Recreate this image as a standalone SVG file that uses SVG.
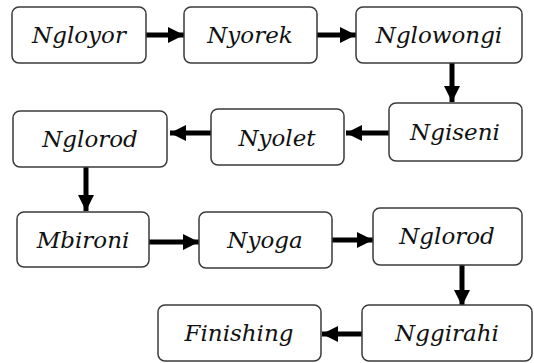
<svg xmlns="http://www.w3.org/2000/svg" width="534" height="363" viewBox="0 0 534 363">
<style>
.box{fill:#fff;stroke:#3a3a3a;stroke-width:1.5}
.t{font-family:"DejaVu Serif","Liberation Serif",serif;font-style:italic;font-size:23px;fill:#111;text-anchor:middle}
.c{stroke:#000;stroke-width:5;fill:none}
</style>
<defs>
<marker id="ah" markerUnits="userSpaceOnUse" markerWidth="16" markerHeight="16" refX="16" refY="8" orient="auto">
<path d="M0,0 L16,8 L0,16 Z" fill="#000"/>
</marker>
</defs>
<rect width="534" height="363" fill="#fff"/>
<g id="connectors">
<line class="c" x1="146" y1="35" x2="184" y2="35" marker-end="url(#ah)"/>
<line class="c" x1="317" y1="35" x2="356" y2="35" marker-end="url(#ah)"/>
<line class="c" x1="452" y1="63" x2="452" y2="102" marker-end="url(#ah)"/>
<line class="c" x1="389" y1="133" x2="346" y2="133" marker-end="url(#ah)"/>
<line class="c" x1="211" y1="133" x2="170" y2="133" marker-end="url(#ah)"/>
<line class="c" x1="86" y1="167" x2="86" y2="211" marker-end="url(#ah)"/>
<line class="c" x1="149" y1="242" x2="199" y2="242" marker-end="url(#ah)"/>
<line class="c" x1="332" y1="240" x2="373" y2="240" marker-end="url(#ah)"/>
<line class="c" x1="462" y1="265" x2="462" y2="306" marker-end="url(#ah)"/>
<line class="c" x1="362" y1="334" x2="322" y2="334" marker-end="url(#ah)"/>
</g>
<g id="n1"><rect class="box" x="12" y="7" width="134" height="56" rx="7"/><text class="t" x="79" y="43">Ngloyor</text></g>
<g id="n2"><rect class="box" x="184" y="7" width="133" height="56" rx="7"/><text class="t" x="250" y="43">Nyorek</text></g>
<g id="n3"><rect class="box" x="356" y="7" width="166" height="56" rx="7"/><text class="t" x="439" y="43">Nglowongi</text></g>
<g id="n4"><rect class="box" x="389" y="103" width="133" height="58" rx="7"/><text class="t" x="455" y="140">Ngiseni</text></g>
<g id="n5"><rect class="box" x="211" y="109" width="133" height="56" rx="7"/><text class="t" x="277" y="146">Nyolet</text></g>
<g id="n6"><rect class="box" x="13" y="111" width="154" height="56" rx="7"/><text class="t" x="90" y="147">Nglorod</text></g>
<g id="n7"><rect class="box" x="17" y="212" width="132" height="55" rx="7"/><text class="t" x="83" y="248">Mbironi</text></g>
<g id="n8"><rect class="box" x="199" y="212" width="133" height="56" rx="7"/><text class="t" x="265" y="248">Nyoga</text></g>
<g id="n9"><rect class="box" x="373" y="208" width="149" height="57" rx="7"/><text class="t" x="447" y="244">Nglorod</text></g>
<g id="n10"><rect class="box" x="362" y="305" width="170" height="56" rx="7"/><text class="t" x="447" y="341">Nggirahi</text></g>
<g id="n11"><rect class="box" x="158" y="305" width="163" height="56" rx="7"/><text class="t" x="239" y="341">Finishing</text></g>
</svg>
